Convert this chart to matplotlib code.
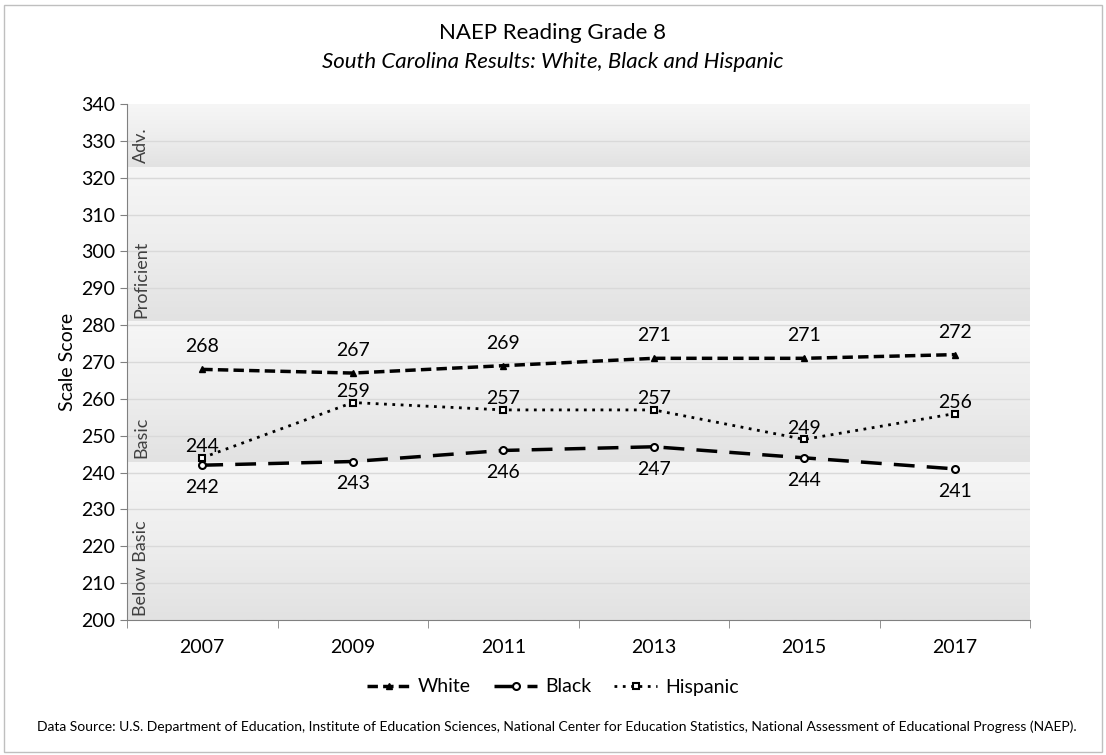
import numpy as np
import matplotlib.pyplot as plt
from matplotlib.patches import Rectangle
from matplotlib.colors import LinearSegmentedColormap

plt.rcParams['font.family'] = ['Lato', 'DejaVu Sans']

years = ['2007', '2009', '2011', '2013', '2015', '2017']
white = [268, 267, 269, 271, 271, 272]
black = [242, 243, 246, 247, 244, 241]
hispanic = [244, 259, 257, 257, 249, 256]

bands = [(200, 243, 'Below Basic'), (243, 281, 'Basic'), (281, 323, 'Proficient'), (323, 340, 'Adv.')]

fig = plt.figure(figsize=(11.06, 7.55), dpi=100)
fig.patches.append(Rectangle((0.004, 0.004), 0.992, 0.99, transform=fig.transFigure,
                             fill=False, edgecolor='#bfbfbf', lw=1))
ax = fig.add_axes([127/1106, 1-620/755, (1030-127)/1106, (620-104)/755])

x = np.arange(len(years))
ax.set_xlim(-0.5, 5.5)
ax.set_ylim(200, 340)

# gradient bands, light at top, darker at bottom
band_cmap = LinearSegmentedColormap.from_list('band', ['#e2e2e2', '#eeeeee', '#f6f6f6'])
grad = np.linspace(0, 1, 100).reshape(-1, 1)
for lo, hi, name in bands:
    ax.imshow(grad, extent=(-0.5, 5.5, lo, hi), origin='lower', aspect='auto',
              cmap=band_cmap, vmin=0, vmax=1, zorder=0, interpolation='bilinear')
    ax.text(-0.46, lo + 1, name, rotation=90, ha='left', va='bottom',
            fontsize=13, color='#404040', zorder=2)
ax.set_aspect('auto')

for yy in range(210, 340, 10):
    ax.axhline(yy, color='#d9d9d9', lw=1, zorder=1)

ax.plot(x, white, color='black', lw=2.5, linestyle=(0, (3, 1.5)), marker='^',
        markersize=4.5, markerfacecolor='black', label='White', zorder=3)
ax.plot(x, black, color='black', lw=2.5, linestyle=(0, (6, 3.5)), marker='o',
        markersize=5, markerfacecolor='white', markeredgewidth=1.5, label='Black', zorder=3)
ax.plot(x, hispanic, color='black', lw=2, linestyle=(0, (1, 2)), marker='s',
        markersize=5, markerfacecolor='white', markeredgewidth=1.5, label='Hispanic', zorder=3)

for i in range(len(years)):
    ax.annotate(str(white[i]), (x[i], white[i]), xytext=(0, 10), textcoords='offset points',
                ha='center', va='bottom', fontsize=14, zorder=4)
    ax.annotate(str(hispanic[i]), (x[i], hispanic[i]), xytext=(0, 2), textcoords='offset points',
                ha='center', va='bottom', fontsize=14, zorder=4)
    ax.annotate(str(black[i]), (x[i], black[i]), xytext=(0, -10), textcoords='offset points',
                ha='center', va='top', fontsize=14, zorder=4)

ax.set_yticks(range(200, 341, 10))
ax.set_xticks(x)
ax.set_xticklabels(years)
ax.set_xticks(np.arange(-0.5, 6, 1), minor=True)
ax.tick_params(axis='x', which='major', length=0, pad=14, labelsize=14)
ax.tick_params(axis='x', which='minor', length=6, color='#808080', direction='out')
ax.tick_params(axis='y', length=5, color='#808080', labelsize=14)
ax.set_ylabel('Scale Score', fontsize=14)
for s in ['top', 'right']:
    ax.spines[s].set_visible(False)
for s in ['left', 'bottom']:
    ax.spines[s].set_color('#808080')

fig.text(0.5, 1-33/755, 'NAEP Reading Grade 8', ha='center', va='center', fontsize=16)
fig.text(0.5, 1-62/755, 'South Carolina Results: White, Black and Hispanic', ha='center',
         va='center', fontsize=16, style='italic')

fig.legend(loc='center', bbox_to_anchor=(0.5, 1-687/755), ncol=3, frameon=False,
           fontsize=14, handlelength=2.2, columnspacing=1.2, handletextpad=0.4)

fig.text(37/1106, 1-727/755, 'Data Source: U.S. Department of Education, Institute of Education Sciences, '
         'National Center for Education Statistics, National Assessment of Educational Progress (NAEP).',
         ha='left', va='center', fontsize=10)

fig.savefig('out.png', dpi=100)
